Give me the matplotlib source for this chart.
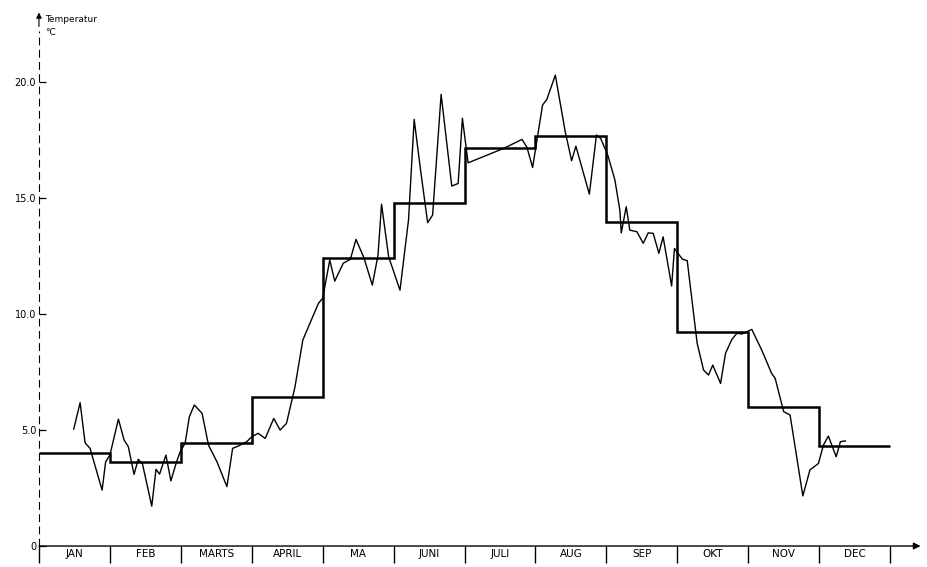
import numpy as np
import matplotlib.pyplot as plt

# Maanedsnavne og maanedsmiddel (grader C)
months = ['JAN', 'FEB', 'MARTS', 'APRIL', 'MA', 'JUNI',
          'JULI', 'AUG', 'SEP', 'OKT', 'NOV', 'DEC']
monthly_mean = [4.0, 3.63, 4.45, 6.41, 12.43, 14.77,
                17.17, 17.67, 13.95, 9.24, 5.99, 4.31]

# Kortperiode-middel: position i maaneder fra 1. jan, temperatur
line_month = [0.49, 0.58, 0.65, 0.72, 0.89, 0.94, 1.00, 1.12, 1.20, 1.26,
              1.34, 1.40, 1.46, 1.59, 1.65, 1.70, 1.79, 1.86, 1.94, 1.99,
              2.06, 2.12, 2.19, 2.30, 2.39, 2.51, 2.65, 2.73, 2.81, 2.93,
              3.00, 3.09, 3.19, 3.31, 3.40, 3.49, 3.61, 3.72, 3.82, 3.94,
              4.00, 4.10, 4.17, 4.29, 4.39, 4.47, 4.58, 4.70, 4.78, 4.83,
              4.93, 5.09, 5.21, 5.29, 5.38, 5.48, 5.55, 5.67, 5.82, 5.91,
              5.97, 6.05, 6.55, 6.81, 6.88, 6.96, 7.10, 7.16, 7.28, 7.42,
              7.51, 7.57, 7.76, 7.86, 7.92, 8.02, 8.12, 8.19, 8.21, 8.28,
              8.33, 8.43, 8.52, 8.59, 8.66, 8.74, 8.80, 8.92, 8.96, 9.07,
              9.14, 9.28, 9.37, 9.44, 9.50, 9.61, 9.68, 9.77, 9.84, 9.91,
              10.05, 10.19, 10.33, 10.38, 10.50, 10.59, 10.77, 10.87, 10.99, 11.06,
              11.13, 11.24, 11.30, 11.37]
line_temp = [5.04, 6.18, 4.45, 4.21, 2.41, 3.63, 3.92, 5.47, 4.57, 4.28,
             3.09, 3.74, 3.53, 1.72, 3.31, 3.10, 3.92, 2.81, 3.63, 4.06,
             4.43, 5.57, 6.08, 5.72, 4.35, 3.63, 2.56, 4.21, 4.31, 4.50,
             4.71, 4.86, 4.64, 5.50, 5.00, 5.29, 6.87, 8.88, 9.60, 10.46,
             10.68, 12.33, 11.42, 12.19, 12.36, 13.22, 12.44, 11.25, 12.54, 14.74,
             12.47, 11.03, 14.05, 18.39, 16.21, 13.94, 14.27, 19.47, 15.52, 15.63,
             18.44, 16.52, 17.14, 17.53, 17.19, 16.32, 19.01, 19.25, 20.30, 17.86,
             16.61, 17.24, 15.17, 17.72, 17.57, 16.85, 15.78, 14.48, 13.50, 14.63,
             13.62, 13.55, 13.05, 13.50, 13.48, 12.62, 13.33, 11.21, 12.83, 12.37,
             12.30, 8.74, 7.59, 7.37, 7.80, 7.01, 8.31, 8.91, 9.17, 9.14,
             9.34, 8.45, 7.44, 7.23, 5.79, 5.65, 2.16, 3.28, 3.56, 4.35,
             4.74, 3.85, 4.50, 4.53]

y_ticks = [0, 5, 10, 15, 20]
y_labels = ['0', '5.0', '10.0', '15.0', '20.0']

fig = plt.figure(figsize=(9.28, 5.67), dpi=100)
ax = fig.add_axes([0.042, 0.037, 0.95, 0.945])
ax.set_xlim(0, 12.43)
ax.set_ylim(0, 23.1)

for s in ax.spines.values():
    s.set_visible(False)

# maanedsmiddel som trappekurve
ax.stairs(monthly_mean, edges=np.arange(13), baseline=None,
          color='black', linewidth=1.8)
# kortperiode-middel
ax.plot(line_month, line_temp, color='black', linewidth=1.0)

# akser med pile
ax.annotate('', xy=(1.0, 0), xytext=(0, 0), xycoords='axes fraction',
            arrowprops=dict(arrowstyle='-|>', color='black', lw=1.0,
                            mutation_scale=10, shrinkA=0, shrinkB=0))
ax.plot([0, 0], [0, 22.2], color='black', linewidth=0.8,
        dashes=(7, 4), clip_on=False)
ax.annotate('', xy=(0, 23.0), xytext=(0, 22.4), xycoords='data',
            arrowprops=dict(arrowstyle='-|>', color='black', lw=0.8,
                            mutation_scale=8, shrinkA=0, shrinkB=0),
            annotation_clip=False)

# x-akse: maanedsgraenser og navne
ax.set_xticks(np.arange(13))
ax.set_xticklabels([])
ax.tick_params(axis='x', which='major', direction='out', length=12,
               width=1.0, color='black')
ax.set_xticks(np.arange(12) + 0.5, minor=True)
ax.set_xticklabels(months, minor=True, fontsize=7.5)
ax.tick_params(axis='x', which='minor', length=0, pad=2)

# y-akse
ax.set_yticks(y_ticks)
ax.set_yticklabels(y_labels, fontsize=7)
ax.tick_params(axis='y', direction='in', length=5, width=0.9, pad=2)

fig.text(0.049, 0.966, 'Temperatur', fontsize=6.5, va='center')
fig.text(0.049, 0.942, '°C', fontsize=6.5, va='center')

fig.savefig('out.png', dpi=100, facecolor='white')
